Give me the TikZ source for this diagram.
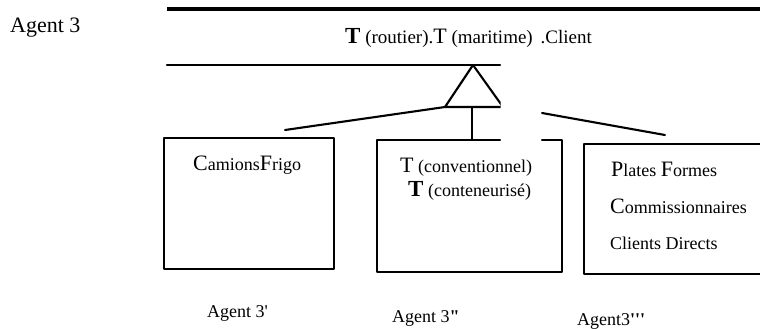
\documentclass[tikz,border=0pt]{standalone}
\usepackage{fontspec}
\setmainfont{Liberation Serif}
\newcommand\capr[1]{{\fontsize{22}{22}\selectfont #1}}
\newcommand\capb[1]{{\fontsize{23}{23}\selectfont\bfseries #1}}
\begin{document}
\begin{tikzpicture}[x=1pt,y=-1pt,
  stroke/.style={line width=2.1pt,line cap=round,line join=round},
  heavy/.style={line width=3.2pt},
  label/.style={anchor=base west,inner sep=0pt,font=\fontsize{18}{20}\selectfont},
  boxshape/.style={rectangle,inner sep=0pt,anchor=north west}]
\useasboundingbox (0,0) rectangle (760,329);
\clip (0,0) rectangle (760,329);

% class header bars
\coordinate (topL) at (167,9);
\coordinate (topR) at (760,9);
\coordinate (midL) at (167,65);
\coordinate (midR) at (500,65);
\draw[heavy] (topL) -- (topR);
\draw[stroke] (midL) -- (midR);

% inheritance triangle (right part cut at x=500)
\coordinate (apex) at (473,65);
\coordinate (baseL) at (445,107);
\coordinate (baseM) at (472,107);
\coordinate (baseR) at (500,107);
\begin{scope}
  \clip (400,50) rectangle (500.5,120);
  \draw[stroke] (baseL) -- (apex) -- (503,107) -- cycle;
\end{scope}

% subclass boxes
\node[boxshape,draw,stroke,minimum width=170pt,minimum height=131pt] (b1) at (163,137) {};
\node[boxshape,minimum width=185pt,minimum height=132pt] (b2) at (377,140) {};
\node[boxshape,draw,stroke,minimum width=200pt,minimum height=130pt] (b3) at (583,143) {};
\draw[stroke] (500,140) -- (b2.north west) -- (b2.south west) -- (b2.south east)
  -- (b2.north east) -- (542,140);

% connectors from the triangle base
\coordinate (l1) at (285,130);
\coordinate (r0) at (542,113);
\coordinate (r1) at (665,135);
\draw[stroke] (baseL) -- (l1);
\draw[stroke] (baseM) -- (baseM |- b2.north);
\draw[stroke] (r0) -- (r1);

% texts
\node[label,font=\fontsize{22}{24}\selectfont] (ag) at (10,33) {Agent 3};
\node[label,font=\fontsize{19}{21}\selectfont] (title) at (345,44) {\capb{T} (routier).\capr{T} (maritime) \,.Client};
\node[label] (t1) at (193,170) {\capr{C}amions\capr{F}rigo};
\node[label] (t2a) at (400,172) {\capr{T} (conventionnel)};
\node[label] (t2b) at (408,196) {\capb{T} (conteneurisé)};
\node[label] (t3a) at (611,176) {\capr{P}lates \capr{F}ormes};
\node[label] (t3b) at (610,213) {\capr{C}ommissionnaires};
\node[label] (t3c) at (610,249) {Clients Directs};
\node[label] (a1) at (207,317) {Agent 3\textquotesingle};
\node[label] (a2) at (392,322) {Agent 3\textbf{\textquotedbl}};
\node[label] (a3) at (577,325) {Agent3\textbf{\textquotesingle\textquotesingle\textquotesingle}};
\end{tikzpicture}
\end{document}
